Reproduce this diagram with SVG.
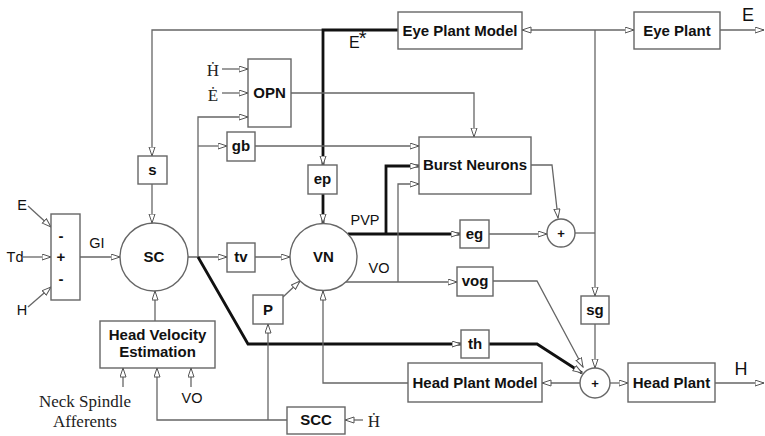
<svg xmlns="http://www.w3.org/2000/svg" width="765" height="436" viewBox="0 0 765 436">
<defs>
<marker id="ar" markerUnits="userSpaceOnUse" markerWidth="11" markerHeight="8" refX="9.5" refY="3.5" orient="auto">
<path d="M0.5,0.5 L9.5,3.5 L0.5,6.5 Z" fill="#fff" stroke="#555" stroke-width="1"/>
</marker>
<style>
.c{fill:none;stroke:#666;stroke-width:1.3;marker-end:url(#ar)}
.n{fill:none;stroke:#666;stroke-width:1.3}
.k{fill:none;stroke:#111;stroke-width:2.8}
.ka{fill:none;stroke:#111;stroke-width:2.8;marker-end:url(#ar)}
.b{fill:#fff;stroke:#666;stroke-width:1.4}
.t{font-family:"Liberation Sans",Arial,sans-serif;font-weight:bold;font-size:15px;text-anchor:middle;fill:#111}
.r{font-family:"Liberation Sans",Arial,sans-serif;font-size:14.5px;text-anchor:middle;fill:#111}
.big{font-size:18px}
.pl{font-size:13px}
.s{font-family:"Liberation Serif","Times New Roman",serif;font-size:17px;text-anchor:middle;fill:#222}
</style>
</defs>
<rect width="765" height="436" fill="#fff"/>
<g id="connectors">
<path class="c" d="M323,30 H152 V156"/>
<path class="ka" d="M398,30 H323 V165"/>
<path class="c" d="M152,184 V223"/>
<path class="c" d="M222,69 H248"/>
<path class="c" d="M222,93 H248"/>
<path class="c" d="M198,257 V117 H248"/>
<path class="c" d="M198,146 H227"/>
<path class="c" d="M255,146 H419"/>
<path class="c" d="M291,93 H474 V137"/>
<path class="ka" d="M323,194 V223"/>
<path class="c" d="M28,206 L51,227"/>
<path class="c" d="M23,257 H51"/>
<path class="c" d="M28,307 L51,287"/>
<path class="c" d="M80,257 H120"/>
<path class="c" d="M188,257 H227"/>
<path class="c" d="M255,257 H290"/>
<path class="k" d="M198,257 L248,344 H420"/>
<path class="ka" d="M420,344 H461"/>
<path class="ka" d="M489,344 H537 L582,373"/>
<path class="c" d="M155,321 V291"/>
<path class="c" d="M123,387 V368"/>
<path class="c" d="M287,420 H157 V368"/>
<path class="c" d="M191,387 V368"/>
<path class="c" d="M268,420 V324"/>
<path class="c" d="M283,297 L300,281"/>
<path class="c" d="M363,420 H345"/>
<path class="c" d="M408,383 H323 V291"/>
<path class="ka" d="M348,234 H460"/>
<path class="ka" d="M386,234 V166 H419"/>
<path class="n" d="M345,282 H398"/>
<path class="c" d="M398,282 H457"/>
<path class="c" d="M398,282 V184 H419"/>
<path class="c" d="M489,234 H547"/>
<path class="c" d="M531,165 H552 L558,218"/>
<path class="n" d="M575,233 H595"/>
<path class="c" d="M595,30 H522"/>
<path class="c" d="M595,30 H634"/>
<path class="c" d="M595,30 V296"/>
<path class="c" d="M595,324 V368"/>
<path class="c" d="M493,281 H537 L583,367"/>
<path class="c" d="M580,383 H542"/>
<path class="c" d="M610,383 H628"/>
<path class="c" d="M715,383 H764"/>
<path class="c" d="M720,30 H764"/>
</g>
<g id="labels">
<text class="r" x="349" y="48" style="text-anchor:start;font-size:16px">E<tspan dx="-1" dy="-3" style="font-size:20px">*</tspan></text>
<text class="s" x="213" y="76">Ḣ</text>
<text class="s" x="213" y="101">Ė</text>
<text class="r" x="365" y="225">PVP</text>
<text class="r" x="379" y="273">VO</text>
<text class="r" x="22" y="210">E</text>
<text class="r" x="15" y="262">Td</text>
<text class="r" x="22" y="315">H</text>
<text class="r" x="97" y="248">GI</text>
<text class="s" x="85" y="407">Neck Spindle</text>
<text class="s" x="85" y="427">Afferents</text>
<text class="r" x="192" y="403">VO</text>
<text class="s" x="374" y="427">Ḣ</text>
<text class="r big" x="741" y="375">H</text>
<text class="r big" x="748" y="21">E</text>
</g>
<g id="eye-plant-model"><rect class="b" x="398" y="12" width="124" height="37"/><text class="t" x="460" y="36">Eye Plant Model</text></g>
<g id="eye-plant"><rect class="b" x="634" y="12" width="86" height="37"/><text class="t" x="677" y="36">Eye Plant</text></g>
<g id="opn"><rect class="b" x="248" y="59" width="43" height="68"/><text class="t" x="269.5" y="98">OPN</text></g>
<g id="gb"><rect class="b" x="227" y="132" width="28" height="29"/><text class="t" x="241" y="151">gb</text></g>
<g id="s"><rect class="b" x="138" y="156" width="29" height="28"/><text class="t" x="152.5" y="175">s</text></g>
<g id="ep"><rect class="b" x="308" y="165" width="29" height="29"/><text class="t" x="322.5" y="184">ep</text></g>
<g id="burst-neurons"><rect class="b" x="419" y="137" width="112" height="57"/><text class="t" x="475" y="170">Burst Neurons</text></g>
<g id="sum-box"><rect class="b" x="51" y="214" width="29" height="86"/><text class="t" x="61" y="241">-</text><text class="t" x="61" y="262">+</text><text class="t" x="61" y="284">-</text></g>
<g id="sc"><circle class="b" cx="154" cy="257" r="34"/><text class="t" x="154" y="262">SC</text></g>
<g id="tv"><rect class="b" x="227" y="243" width="28" height="29"/><text class="t" x="241" y="262">tv</text></g>
<g id="vn"><circle class="b" cx="323.5" cy="257" r="33.5"/><text class="t" x="323.5" y="262">VN</text></g>
<g id="eg"><rect class="b" x="460" y="220" width="29" height="28"/><text class="t" x="474.5" y="239">eg</text></g>
<g id="vog"><rect class="b" x="457" y="267" width="36" height="29"/><text class="t" x="475" y="286">vog</text></g>
<g id="sum1"><circle class="b" cx="561" cy="233" r="14"/><text class="t pl" x="561" y="237.5">+</text></g>
<g id="sg"><rect class="b" x="581" y="296" width="28" height="28"/><text class="t" x="595" y="315">sg</text></g>
<g id="p"><rect class="b" x="253" y="295" width="30" height="29"/><text class="t" x="268" y="315">P</text></g>
<g id="th"><rect class="b" x="461" y="330" width="28" height="28"/><text class="t" x="475" y="349">th</text></g>
<g id="head-velocity-estimation"><rect class="b" x="100" y="321" width="115" height="47"/><text class="t" x="157.5" y="340">Head Velocity</text><text class="t" x="157.5" y="357">Estimation</text></g>
<g id="head-plant-model"><rect class="b" x="408" y="363" width="134" height="39"/><text class="t" x="475" y="388">Head Plant Model</text></g>
<g id="sum2"><circle class="b" cx="595" cy="383" r="15"/><text class="t pl" x="595" y="387.5">+</text></g>
<g id="head-plant"><rect class="b" x="628" y="363" width="87" height="39"/><text class="t" x="671.5" y="388">Head Plant</text></g>
<g id="scc"><rect class="b" x="287" y="407" width="58" height="27"/><text class="t" x="316" y="425">SCC</text></g>
</svg>
